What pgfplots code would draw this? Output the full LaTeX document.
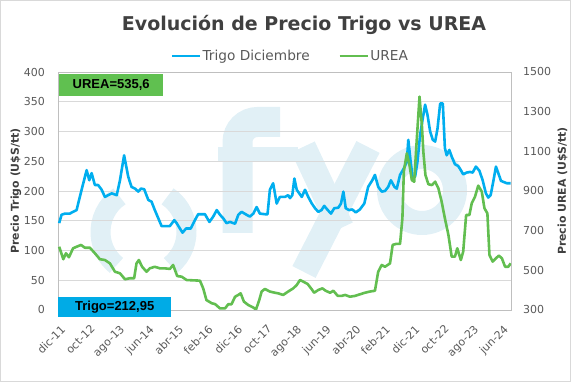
\documentclass[border=0pt]{standalone}
\usepackage{fontspec}
\setmainfont{DejaVu Sans}
\newfontfamily\boxfont{Liberation Sans}
\usepackage{pgfplots}
\pgfplotsset{compat=1.18}
\definecolor{trigo}{RGB}{0,174,239}
\definecolor{urea}{RGB}{98,190,80}
\definecolor{boxgreen}{RGB}{96,192,80}
\definecolor{boxblue}{RGB}{0,171,230}
\definecolor{gridc}{RGB}{217,217,217}
\definecolor{framec}{RGB}{191,191,191}
\definecolor{txt}{RGB}{89,89,89}
\definecolor{titlec}{RGB}{64,64,64}
\definecolor{wm}{RGB}{225,240,246}
\begin{document}
\begin{tikzpicture}[x=1pt,y=1pt]
\useasboundingbox (-58,-72) rectangle (513,310);
\draw[gridc, line width=1pt] (-57.5,-71.5) rectangle (512.5,309.5);
% watermark logo (drawn shapes)
\draw[wm, line width=20pt] (85.5,78) ++(124:43) arc[start angle=124, end angle=231, radius=43];
\draw[wm, line width=20pt] (85.5,78) ++(-51:43) arc[start angle=-51, end angle=56, radius=43];
\draw[wm, line width=30pt] (179.5,77) -- (179.5,168) arc[start angle=180, end angle=90, radius=20] -- (222,188);
\draw[wm, line width=14pt] (160,156) -- (240,156);
\draw[wm, line width=26pt] (245,163) -- (283,82);
\draw[wm, line width=26pt] (310,163) -- (246,38);
\draw[wm, line width=24pt] (364,120) circle[radius=33];
\node[anchor=base, font=\bfseries\fontsize{19}{19}\selectfont, text=titlec] at (246,279) {Evolución de Precio Trigo vs UREA};
\begin{axis}[
  at={(0,0)}, anchor=south west, scale only axis, width=453pt, height=238pt,
  xmin=-0.4, xmax=153.1, ymin=0, ymax=400,
  ytick={0,50,...,400},
  xtick={0,10,...,150},
  xticklabels={dic-11,oct-12,ago-13,jun-14,abr-15,feb-16,dic-16,oct-17,ago-18,jun-19,abr-20,feb-21,dic-21,oct-22,ago-23,jun-24},
  tick style={draw=none},
  ymajorgrids, grid style={gridc, line width=0.75pt},
  axis line style={framec, line width=0.75pt},
  tick label style={font=\fontsize{11}{13}\selectfont, text=txt},
  yticklabel style={inner sep=0pt, xshift=-13pt},
  xticklabel style={xshift=1pt, yshift=-14pt, rotate=45, anchor=north east, inner sep=0pt},
  /pgf/number format/assume math mode=true,
  every axis y label/.style={at={(rel axis cs:-0.0927,0.5)}, anchor=center, rotate=90},
  ylabel={Precio Trigo (U\$S/tt)},
  label style={font=\bfseries\fontsize{10.9}{12}\selectfont, text=titlec},
]
\addplot[trigo, line width=2.6pt, line join=round] coordinates {
(0.0,146) (0.8,160) (1.9,162) (3.6,162) (4.7,165) (5.9,168) (7.6,202) (9.3,235) (10.2,218) (11.0,230)
(12.1,210) (13.2,210) (14.4,202) (15.5,190) (16.6,193) (17.8,196) (19.5,193) (20.6,218) (22.0,260) (23.4,224)
(24.5,207) (25.7,204) (26.8,199) (27.7,204) (28.8,203) (30.2,185) (31.3,182) (32.4,168) (33.6,154) (34.7,141)
(37.5,141) (39.0,151) (39.8,146) (40.9,137) (41.8,130) (43.0,137) (44.6,137) (46.0,151) (47.1,161) (49.4,161)
(50.9,148) (52.2,157) (53.4,168) (54.5,160) (55.6,154) (56.7,146) (57.9,148) (59.6,145) (60.7,160) (61.8,165)
(63.5,160) (64.6,157) (65.8,162) (66.9,173) (68.0,162) (69.7,161) (70.6,161) (71.4,202) (72.5,213) (73.7,179)
(74.8,190) (76.5,190) (77.6,193) (78.2,188) (79.0,193) (79.7,221) (80.5,202) (82.2,190) (83.3,202) (84.4,190)
(85.6,179) (86.7,171) (87.8,165) (88.9,168) (89.8,175) (91.0,168) (92.1,162) (93.2,171) (94.6,172) (95.5,179)
(96.3,199) (97.1,171) (98.2,168) (99.3,169) (100.5,164) (101.9,169) (103.4,179) (104.7,207) (106.1,218) (107.0,227)
(108.1,207) (109.3,199) (110.4,200) (111.5,207) (112.4,218) (113.6,207) (114.4,204) (115.5,227) (116.8,238) (117.8,249)
(118.3,286) (119.1,249) (119.8,222) (120.6,224) (121.4,249) (122.3,294) (123.2,322) (124.0,345) (124.8,328) (125.7,300)
(126.6,286) (127.4,283) (128.2,305) (129.1,347) (130.0,347) (130.7,272) (131.3,260) (132.2,269) (133.0,258) (134.1,245)
(135.2,242) (136.1,235) (136.9,228) (138.1,231) (139.2,232) (140.1,231) (141.2,241) (142.4,234) (143.5,218) (144.6,196)
(145.4,189) (146.2,193) (147.1,216) (148.0,241) (148.8,230) (149.7,217) (150.7,215) (151.7,213) (153.0,212.95)
};
\end{axis}
\begin{axis}[
  at={(0,0)}, anchor=south west, scale only axis, width=453pt, height=238pt,
  xmin=-0.4, xmax=153.1, ymin=300, ymax=1500,
  ytick={300,500,...,1500},
  axis x line=none, axis y line*=right,
  tick style={draw=none},
  axis line style={framec, line width=0.75pt},
  tick label style={font=\fontsize{11}{13}\selectfont, text=txt},
  yticklabel style={inner sep=0pt, xshift=12pt},
  /pgf/number format/assume math mode=true,
  /pgf/number format/1000 sep={},
  every axis y label/.style={at={(rel axis cs:1.1137,0.5)}, anchor=center, rotate=90},
  ylabel={Precio UREA (U\$S/tt)},
  label style={font=\bfseries\fontsize{10.9}{12}\selectfont, text=titlec},
  legend columns=2,
  legend style={at={(0.512,1.067)}, anchor=center, draw=none, fill=none,
    font=\fontsize{13.7}{15}\selectfont, text=txt, inner xsep=0pt, inner ysep=0pt,
    nodes={inner sep=1.5pt},
    /tikz/every even column/.append style={column sep=27pt}},
  legend image code/.code={\draw[#1] (0pt,0pt) -- (28pt,0pt);},
]
\addlegendimage{trigo, line width=2.6pt}
\addlegendentry{Trigo Diciembre}
\addplot[urea, line width=2.6pt, line join=round] coordinates {
(0.0,619) (1.4,556) (2.3,586) (3.3,566) (4.7,611) (5.9,619) (7.4,628) (8.7,614) (10.4,614) (12.1,586)
(13.8,556) (15.5,552) (17.2,535) (18.9,493) (20.6,485) (22.3,455) (24.0,460) (25.4,460) (26.2,535) (27.0,552)
(28.1,518) (29.6,493) (30.7,510) (32.4,518) (34.1,510) (35.8,510) (37.5,507) (38.6,527) (40.0,471) (41.5,468)
(43.2,451) (47.7,448) (48.8,409) (49.9,350) (51.7,334) (52.8,330) (54.5,308) (56.2,308) (57.3,329) (58.4,329)
(59.6,367) (60.7,376) (61.5,384) (62.6,342) (64.1,325) (65.6,314) (66.7,303) (67.8,350) (68.6,393) (69.7,406)
(71.4,393) (73.1,387) (74.2,384) (75.9,376) (77.6,393) (79.3,409) (80.5,426) (81.6,451) (82.7,443) (84.2,431)
(85.6,404) (86.4,387) (87.8,401) (89.2,409) (90.3,397) (91.8,387) (92.9,397) (94.4,371) (95.7,371) (96.9,376)
(98.5,367) (100.2,371) (101.9,379) (103.6,387) (105.3,393) (107.0,397) (108.1,493) (109.3,527) (110.4,518) (112.1,535)
(113.0,628) (114.1,633) (115.5,633) (116.3,762) (116.8,1000) (117.8,1090) (118.7,1031) (119.5,955) (120.3,947) (121.2,1166)
(122.1,1376) (122.9,1233) (123.4,1098) (124.1,981) (125.1,934) (126.3,930) (127.4,947) (128.5,913) (129.6,846) (130.7,762)
(131.9,678) (133.0,569) (134.1,569) (134.9,611) (136.1,552) (136.9,594) (137.9,779) (139.0,779) (139.8,838) (140.9,871)
(142.0,927) (143.2,897) (144.1,813) (145.1,787) (145.8,577) (146.9,544) (148.0,561) (149.0,574) (150.0,561) (151.1,518)
(152.2,518) (153.0,535.6)
};
\addlegendentry{UREA}
\end{axis}
\node[fill=boxgreen, minimum width=104pt, minimum height=22pt, inner sep=0pt, anchor=north west,
  font=\boxfont\bfseries\fontsize{13}{13}\selectfont] at (1,236) {UREA=535,6};
\node[fill=boxblue, minimum width=113pt, minimum height=20pt, inner sep=0pt, anchor=north west,
  font=\boxfont\bfseries\fontsize{13}{13}\selectfont] at (0,13) {Trigo=212,95};
\end{tikzpicture}
\end{document}
